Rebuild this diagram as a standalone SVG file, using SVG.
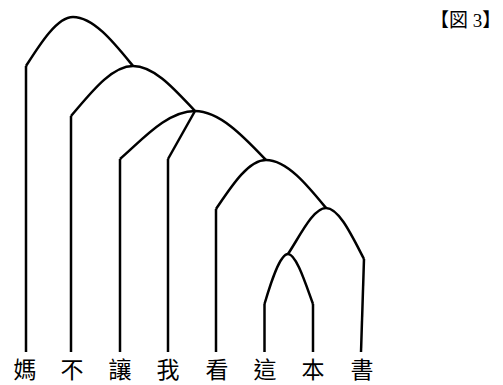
<svg xmlns="http://www.w3.org/2000/svg" width="503" height="385" viewBox="0 0 503 385">
<style>
.ln{fill:none;stroke:#000;stroke-width:2.5;stroke-linejoin:round;stroke-linecap:butt}
.w{font-family:"Noto Sans CJK TC","Noto Sans CJK JP",sans-serif;font-size:23px;text-anchor:middle;fill:#000}
.t{font-family:"Liberation Serif","Noto Sans CJK JP",serif;font-size:19px;fill:#000}
</style>
<rect width="503" height="385" fill="#fff"/>
<text class="t" x="430" y="27">【図 3】</text>
<g id="leaf-1"><path class="ln" d="M26,66 V352"/><text class="w" x="25" y="378">媽</text></g>
<g id="leaf-2"><path class="ln" d="M71,116 V352"/><text class="w" x="72" y="378">不</text></g>
<g id="leaf-3"><path class="ln" d="M120,159 V352"/><text class="w" x="120" y="378">讓</text></g>
<g id="leaf-4"><path class="ln" d="M168,159 V352"/><text class="w" x="168" y="378">我</text></g>
<g id="leaf-5"><path class="ln" d="M216,209 V352"/><text class="w" x="217" y="378">看</text></g>
<g id="leaf-6"><path class="ln" d="M264.5,304 V352"/><text class="w" x="265" y="378">這</text></g>
<g id="leaf-7"><path class="ln" d="M313,304 V352"/><text class="w" x="313" y="378">本</text></g>
<g id="leaf-8"><path class="ln" d="M364,259 L361,352"/><text class="w" x="362" y="378">書</text></g>
<g id="connectors">
<path class="ln" d="M26,66 C40,44 57,17 73,17 C94,17 115,44 133,66"/>
<path class="ln" d="M71,116 C90,94 111,66 133,66 C155,66 176,91 195,111"/>
<path class="ln" d="M120,159 C142,140 167,111 195,111 C220,111 245,138 266,160"/>
<path class="ln" d="M168,159 L195,111"/>
<path class="ln" d="M216,209 C231,187 248,160 266,160 C287,160 308,186 326,208"/>
<path class="ln" d="M288,254 C300,236 313,208 326,208 C339,208 352,236 364,259"/>
<path class="ln" d="M264.5,304 C271,282 280,254 288,254 C296,254 305,282 313,304"/>
</g>
</svg>
